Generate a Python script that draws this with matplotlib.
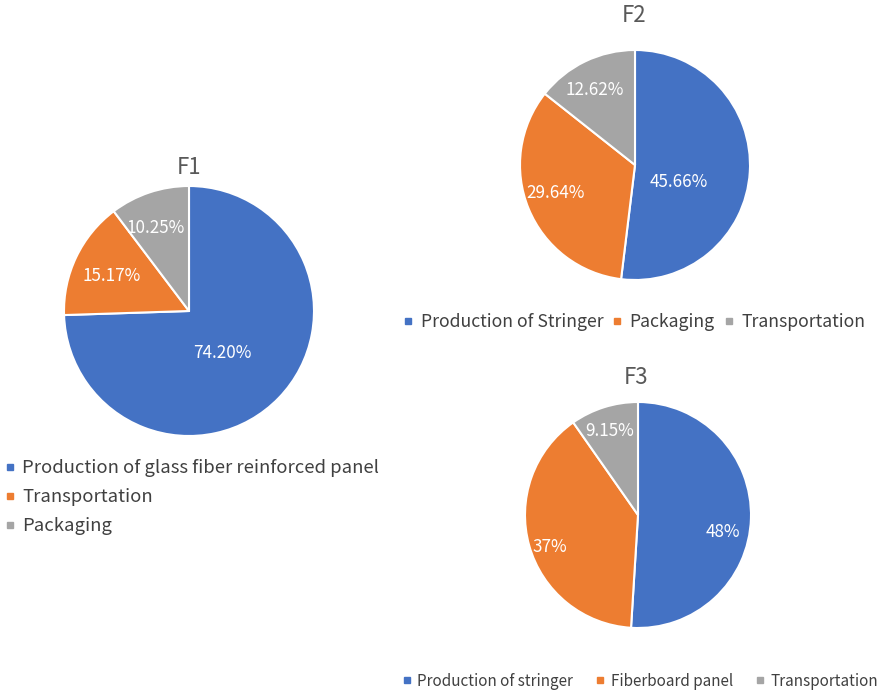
import matplotlib
matplotlib.use('Agg')
import matplotlib.pyplot as plt
from matplotlib.lines import Line2D
import numpy as np

plt.rcParams['font.family'] = ['Noto Sans CJK SC', 'DejaVu Sans']

colors = ['#4472C4', '#ED7D31', '#A5A5A5']

# F1
f1_labels = ['Production of glass fiber reinforced panel', 'Transportation', 'Packaging']
f1_values = [74.20, 15.17, 10.25]
f1_text = ['74.20%', '15.17%', '10.25%']
# F2
f2_labels = ['Production of Stringer', 'Packaging', 'Transportation']
f2_values = [45.66, 29.64, 12.62]
f2_text = ['45.66%', '29.64%', '12.62%']
# F3
f3_labels = ['Production of stringer', 'Fiberboard panel', 'Transportation']
f3_values = [48, 37, 9.15]
f3_text = ['48%', '37%', '9.15%']

W, H = 884, 694
fig = plt.figure(figsize=(W / 100, H / 100), dpi=100, facecolor='white')


def pie_axes(cx, cy, r):
    return fig.add_axes([(cx - r) / W, (H - cy - r) / H, 2 * r / W, 2 * r / H])


def draw_pie(ax, values, texts, dists, rot):
    wedges, _ = ax.pie(values, colors=colors, startangle=90, counterclock=False,
                       wedgeprops=dict(edgecolor='white', linewidth=1.5))
    # label placement: distance from centre and angular nudge per wedge
    for w, t, d, a in zip(wedges, texts, dists, rot):
        ang = np.deg2rad((w.theta1 + w.theta2) / 2 + a)
        ax.text(d * np.cos(ang), d * np.sin(ang), t, color='white',
                fontsize=12.3, ha='center', va='center')
    ax.set_xlim(-1, 1); ax.set_ylim(-1, 1)
    ax.set_aspect('equal')
    ax.axis('off')
    return wedges


ax1 = pie_axes(189, 311, 125)
draw_pie(ax1, f1_values, f1_text, [0.43, 0.68, 0.72], [-8, 1.5, 3.5])
ax2 = pie_axes(635, 165, 115)
draw_pie(ax2, f2_values, f2_text, [0.41, 0.73, 0.74], [-18, -3, 2.5])
ax3 = pie_axes(638, 515, 113)
draw_pie(ax3, f3_values, f3_text, [0.77, 0.83, 0.78], [-9.5, 4, 1])

title_kw = dict(color='#595959', fontsize=16, ha='center', va='center')
fig.text(189 / W, 1 - 167 / H, 'F1', **title_kw)
fig.text(634 / W, 1 - 16 / H, 'F2', **title_kw)
fig.text(636 / W, 1 - 378 / H, 'F3', **title_kw)


def handles(labels):
    return [Line2D([], [], marker='s', ls='', color=c, markersize=5, label=l)
            for c, l in zip(colors, labels)]


leg_kw = dict(frameon=False, handlelength=0.6, handletextpad=0.4,
              labelcolor='#404040', borderaxespad=0, borderpad=0)
fig.legend(handles=handles(f1_labels), loc='upper left',
           bbox_to_anchor=(4 / W, 1 - 459 / H), fontsize=13.3,
           labelspacing=0.6, **leg_kw)
fig.legend(handles=handles(f2_labels), loc='center left', ncol=3,
           bbox_to_anchor=(403 / W, 1 - 322 / H), fontsize=12.7,
           columnspacing=0.5, **leg_kw)
fig.legend(handles=handles(f3_labels), loc='center left', ncol=3,
           bbox_to_anchor=(402 / W, 1 - 681 / H), fontsize=11,
           columnspacing=1.45, **leg_kw)

fig.savefig('out.png', dpi=100, facecolor='white')
